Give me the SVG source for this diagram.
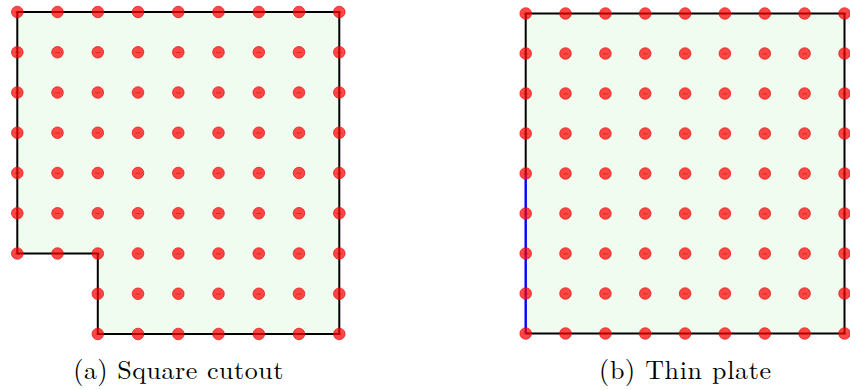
<svg xmlns="http://www.w3.org/2000/svg" xmlns:xlink="http://www.w3.org/1999/xlink" width="850" height="390" viewBox="0 0 850 390">
<style>
.plate{fill:#effcef;stroke:none}
.edge{fill:none;stroke:#000;stroke-width:2;stroke-linejoin:miter}
.bc{fill:none;stroke:#0000ff;stroke-width:2.4}
.cap{font-family:"Latin Modern Roman","Liberation Serif","DejaVu Serif",serif;font-size:26px;fill:#000;text-anchor:middle}
</style>
<defs>
<g id="d">
<circle r="5.8" fill="#ff0000" fill-opacity="0.72" stroke="#e00000" stroke-opacity="0.8" stroke-width="0.8"/>
<path d="M-2.5,0.3H2.5" stroke="#b00000" stroke-width="0.7" stroke-opacity="0.6"/>
</g>
</defs>
<g id="panel-a">
<polygon class="plate" points="17.3,12 339.3,12 339.3,334 97.8,334 97.8,253.5 17.3,253.5"/>
<polygon class="edge" points="17.3,12 339.3,12 339.3,334 97.8,334 97.8,253.5 17.3,253.5"/>
<g id="nodes-a">
<use href="#d" x="17.3" y="12"/><use href="#d" x="57.5" y="12"/><use href="#d" x="97.8" y="12"/><use href="#d" x="138" y="12"/><use href="#d" x="178.3" y="12"/><use href="#d" x="218.5" y="12"/><use href="#d" x="258.8" y="12"/><use href="#d" x="299" y="12"/><use href="#d" x="339.3" y="12"/>
<use href="#d" x="17.3" y="52.25"/><use href="#d" x="57.5" y="52.25"/><use href="#d" x="97.8" y="52.25"/><use href="#d" x="138" y="52.25"/><use href="#d" x="178.3" y="52.25"/><use href="#d" x="218.5" y="52.25"/><use href="#d" x="258.8" y="52.25"/><use href="#d" x="299" y="52.25"/><use href="#d" x="339.3" y="52.25"/>
<use href="#d" x="17.3" y="92.5"/><use href="#d" x="57.5" y="92.5"/><use href="#d" x="97.8" y="92.5"/><use href="#d" x="138" y="92.5"/><use href="#d" x="178.3" y="92.5"/><use href="#d" x="218.5" y="92.5"/><use href="#d" x="258.8" y="92.5"/><use href="#d" x="299" y="92.5"/><use href="#d" x="339.3" y="92.5"/>
<use href="#d" x="17.3" y="132.75"/><use href="#d" x="57.5" y="132.75"/><use href="#d" x="97.8" y="132.75"/><use href="#d" x="138" y="132.75"/><use href="#d" x="178.3" y="132.75"/><use href="#d" x="218.5" y="132.75"/><use href="#d" x="258.8" y="132.75"/><use href="#d" x="299" y="132.75"/><use href="#d" x="339.3" y="132.75"/>
<use href="#d" x="17.3" y="173"/><use href="#d" x="57.5" y="173"/><use href="#d" x="97.8" y="173"/><use href="#d" x="138" y="173"/><use href="#d" x="178.3" y="173"/><use href="#d" x="218.5" y="173"/><use href="#d" x="258.8" y="173"/><use href="#d" x="299" y="173"/><use href="#d" x="339.3" y="173"/>
<use href="#d" x="17.3" y="213.25"/><use href="#d" x="57.5" y="213.25"/><use href="#d" x="97.8" y="213.25"/><use href="#d" x="138" y="213.25"/><use href="#d" x="178.3" y="213.25"/><use href="#d" x="218.5" y="213.25"/><use href="#d" x="258.8" y="213.25"/><use href="#d" x="299" y="213.25"/><use href="#d" x="339.3" y="213.25"/>
<use href="#d" x="17.3" y="253.5"/><use href="#d" x="57.5" y="253.5"/><use href="#d" x="97.8" y="253.5"/><use href="#d" x="138" y="253.5"/><use href="#d" x="178.3" y="253.5"/><use href="#d" x="218.5" y="253.5"/><use href="#d" x="258.8" y="253.5"/><use href="#d" x="299" y="253.5"/><use href="#d" x="339.3" y="253.5"/>
<use href="#d" x="97.8" y="293.75"/><use href="#d" x="138" y="293.75"/><use href="#d" x="178.3" y="293.75"/><use href="#d" x="218.5" y="293.75"/><use href="#d" x="258.8" y="293.75"/><use href="#d" x="299" y="293.75"/><use href="#d" x="339.3" y="293.75"/>
<use href="#d" x="97.8" y="334"/><use href="#d" x="138" y="334"/><use href="#d" x="178.3" y="334"/><use href="#d" x="218.5" y="334"/><use href="#d" x="258.8" y="334"/><use href="#d" x="299" y="334"/><use href="#d" x="339.3" y="334"/>
</g>
<text class="cap" x="178.3" y="379" textLength="210" lengthAdjust="spacing">(a) Square cutout</text>
</g>
<g id="panel-b">
<rect class="plate" x="525.7" y="13.5" width="318.8" height="320"/>
<path class="edge" d="M525.7,173.5V13.5H844.5V333.5H525.7"/>
<path class="bc" d="M525.7,173.5V333.5"/>
<g id="nodes-b">
<use href="#d" x="525.7" y="13.5"/><use href="#d" x="565.5" y="13.5"/><use href="#d" x="605.4" y="13.5"/><use href="#d" x="645.2" y="13.5"/><use href="#d" x="685.1" y="13.5"/><use href="#d" x="724.9" y="13.5"/><use href="#d" x="764.8" y="13.5"/><use href="#d" x="804.6" y="13.5"/><use href="#d" x="844.5" y="13.5"/>
<use href="#d" x="525.7" y="53.5"/><use href="#d" x="565.5" y="53.5"/><use href="#d" x="605.4" y="53.5"/><use href="#d" x="645.2" y="53.5"/><use href="#d" x="685.1" y="53.5"/><use href="#d" x="724.9" y="53.5"/><use href="#d" x="764.8" y="53.5"/><use href="#d" x="804.6" y="53.5"/><use href="#d" x="844.5" y="53.5"/>
<use href="#d" x="525.7" y="93.5"/><use href="#d" x="565.5" y="93.5"/><use href="#d" x="605.4" y="93.5"/><use href="#d" x="645.2" y="93.5"/><use href="#d" x="685.1" y="93.5"/><use href="#d" x="724.9" y="93.5"/><use href="#d" x="764.8" y="93.5"/><use href="#d" x="804.6" y="93.5"/><use href="#d" x="844.5" y="93.5"/>
<use href="#d" x="525.7" y="133.5"/><use href="#d" x="565.5" y="133.5"/><use href="#d" x="605.4" y="133.5"/><use href="#d" x="645.2" y="133.5"/><use href="#d" x="685.1" y="133.5"/><use href="#d" x="724.9" y="133.5"/><use href="#d" x="764.8" y="133.5"/><use href="#d" x="804.6" y="133.5"/><use href="#d" x="844.5" y="133.5"/>
<use href="#d" x="525.7" y="173.5"/><use href="#d" x="565.5" y="173.5"/><use href="#d" x="605.4" y="173.5"/><use href="#d" x="645.2" y="173.5"/><use href="#d" x="685.1" y="173.5"/><use href="#d" x="724.9" y="173.5"/><use href="#d" x="764.8" y="173.5"/><use href="#d" x="804.6" y="173.5"/><use href="#d" x="844.5" y="173.5"/>
<use href="#d" x="525.7" y="213.5"/><use href="#d" x="565.5" y="213.5"/><use href="#d" x="605.4" y="213.5"/><use href="#d" x="645.2" y="213.5"/><use href="#d" x="685.1" y="213.5"/><use href="#d" x="724.9" y="213.5"/><use href="#d" x="764.8" y="213.5"/><use href="#d" x="804.6" y="213.5"/><use href="#d" x="844.5" y="213.5"/>
<use href="#d" x="525.7" y="253.5"/><use href="#d" x="565.5" y="253.5"/><use href="#d" x="605.4" y="253.5"/><use href="#d" x="645.2" y="253.5"/><use href="#d" x="685.1" y="253.5"/><use href="#d" x="724.9" y="253.5"/><use href="#d" x="764.8" y="253.5"/><use href="#d" x="804.6" y="253.5"/><use href="#d" x="844.5" y="253.5"/>
<use href="#d" x="525.7" y="293.5"/><use href="#d" x="565.5" y="293.5"/><use href="#d" x="605.4" y="293.5"/><use href="#d" x="645.2" y="293.5"/><use href="#d" x="685.1" y="293.5"/><use href="#d" x="724.9" y="293.5"/><use href="#d" x="764.8" y="293.5"/><use href="#d" x="804.6" y="293.5"/><use href="#d" x="844.5" y="293.5"/>
<use href="#d" x="525.7" y="333.5"/><use href="#d" x="565.5" y="333.5"/><use href="#d" x="605.4" y="333.5"/><use href="#d" x="645.2" y="333.5"/><use href="#d" x="685.1" y="333.5"/><use href="#d" x="724.9" y="333.5"/><use href="#d" x="764.8" y="333.5"/><use href="#d" x="804.6" y="333.5"/><use href="#d" x="844.5" y="333.5"/>
</g>
<text class="cap" x="685.1" y="379" textLength="172" lengthAdjust="spacing">(b) Thin plate</text>
</g>
</svg>
